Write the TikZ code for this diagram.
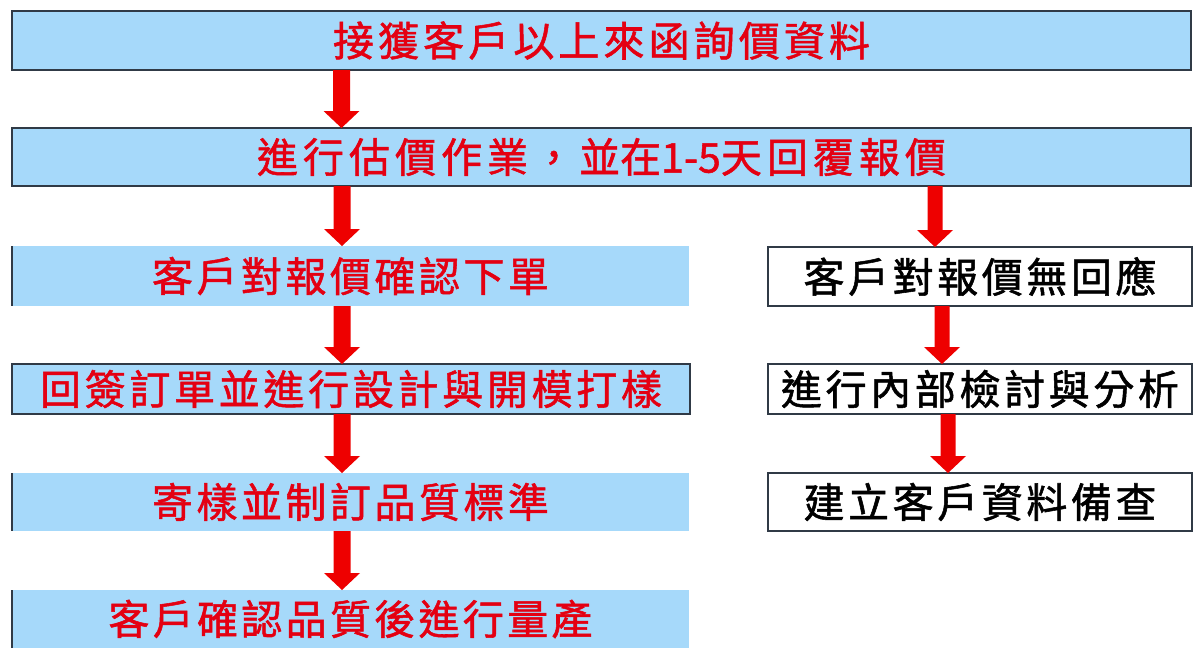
\documentclass[tikz,border=0pt]{standalone}
\usepackage{fontspec}
\newfontfamily\cjk[BoldFont={Noto Sans CJK TC},BoldFeatures={FakeBold=1.3}]{Noto Sans CJK TC}
\usetikzlibrary{calc}
\newdimen\pxu \pxu=0.5pt
\def\spr#1{\sprA#1\relax}
\def\sprA#1{#1\sprB}
\def\sprB#1{\ifx#1\relax\else\hfill#1\expandafter\sprB\fi}
\newcommand\spreadtxt[2]{\raisebox{-2pt}{\hbox to #1\pxu{\spr{#2}}}}
\definecolor{boxblue}{RGB}{166,217,250}
\definecolor{edgecol}{RGB}{48,58,70}
\definecolor{txtred}{RGB}{228,0,18}
\definecolor{arrred}{RGB}{238,0,0}
\newcommand\bigarrow[3]{%
  \fill[arrred] ($(#1)+(-#3,0)$) -- ($(#2)+(-#3,-17)$) -- ($(#2)+(-18,-17)$) -- (#2)
    -- ($(#2)+(18,-17)$) -- ($(#2)+(#3,-17)$) -- ($(#1)+(#3,0)$) -- cycle;}
\begin{document}
\begin{tikzpicture}[x=0.5pt,y=-0.5pt,
  basebox/.style={rectangle, inner sep=0pt, outer sep=0pt, line width=1pt,
    font=\cjk\bfseries\fontsize{20.5pt}{20.5pt}\selectfont},
  bluebox/.style={basebox, fill=boxblue, draw=edgecol, text=txtred},
  bluefill/.style={basebox, fill=boxblue, text=txtred},
  whitebox/.style={basebox, fill=white, draw=edgecol, text=black},
  leftedge/.style={draw=edgecol, line width=1pt}]
\fill[white] (0,0) rectangle (1200,666);
\useasboundingbox (0,0) rectangle (1200,666);
% left column
\node[bluebox, minimum width=1179\pxu, minimum height=59\pxu] (b1) at (601.5,40.5)
  {\spreadtxt{537}{接獲客戶以上來函詢價資料}};
\node[bluebox, minimum width=1179\pxu, minimum height=58\pxu] (b2) at (601.5,157)
  {\raisebox{-2pt}{\hbox to 689\pxu{\spr{進行估價作業，}\hfill 並在1-5天\hfill\spr{回覆報價}}}};
\node[bluefill, minimum width=677\pxu, minimum height=60\pxu] (b3) at (350.5,276)
  {\spreadtxt{397}{客戶對報價確認下單}};
\node[bluebox, minimum width=678\pxu, minimum height=50\pxu] (b4) at (351,389)
  {\spreadtxt{622}{回簽訂單並進行設計與開模打樣}};
\node[bluefill, minimum width=677\pxu, minimum height=58\pxu] (b5) at (350.5,502)
  {\spreadtxt{397}{寄樣並制訂品質標準}};
\node[bluefill, minimum width=677\pxu, minimum height=58\pxu] (b6) at (350.5,619)
  {\spreadtxt{484}{客戶確認品質後進行量產}};
\draw[leftedge] (b3.north west) -- (b3.south west);
\draw[leftedge] (b5.north west) -- (b5.south west);
\draw[leftedge] (b6.north west) -- (b6.south west);
% right column
\node[whitebox, minimum width=424\pxu, minimum height=59\pxu] (r1) at (980,276.5)
  {\spreadtxt{353}{客戶對報價無回應}};
\node[whitebox, minimum width=424\pxu, minimum height=50\pxu] (r2) at (980,389)
  {\spreadtxt{398}{進行內部檢討與分析}};
\node[whitebox, minimum width=424\pxu, minimum height=58\pxu] (r3) at (980,502)
  {\spreadtxt{353}{建立客戶資料備查}};
% arrows
\coordinate (s1) at ([xshift=-260\pxu]b1.south);
\coordinate (e1) at ([xshift=-260\pxu]b2.north);
\coordinate (s2) at ([xshift=-259.5\pxu]b2.south);
\coordinate (e2) at ([xshift=-8.5\pxu]b3.north);
\coordinate (s3) at ([xshift=-8.5\pxu]b3.south);
\coordinate (e3) at ([xshift=-9\pxu]b4.north);
\coordinate (s4) at ([xshift=-9\pxu]b4.south);
\coordinate (e4) at ([xshift=-8.5\pxu]b5.north);
\coordinate (s5) at ([xshift=-8.5\pxu]b5.south);
\coordinate (e5) at ([xshift=-8.5\pxu]b6.north);
\coordinate (s6) at ([xshift=333.5\pxu]b2.south);
\coordinate (e6) at ([xshift=-45\pxu]r1.north);
\coordinate (s7) at ([xshift=-38\pxu]r1.south);
\coordinate (e7) at ([xshift=-38\pxu]r2.north);
\coordinate (s8) at ([xshift=-32\pxu]r2.south);
\coordinate (e8) at ([xshift=-32\pxu]r3.north);
\bigarrow{s1}{e1}{8.5}
\bigarrow{s2}{e2}{8.5}
\bigarrow{s3}{e3}{8.5}
\bigarrow{s4}{e4}{8.5}
\bigarrow{s5}{e5}{8.5}
\bigarrow{s6}{e6}{7.5}
\bigarrow{s7}{e7}{7.5}
\bigarrow{s8}{e8}{7.5}
\end{tikzpicture}
\end{document}
